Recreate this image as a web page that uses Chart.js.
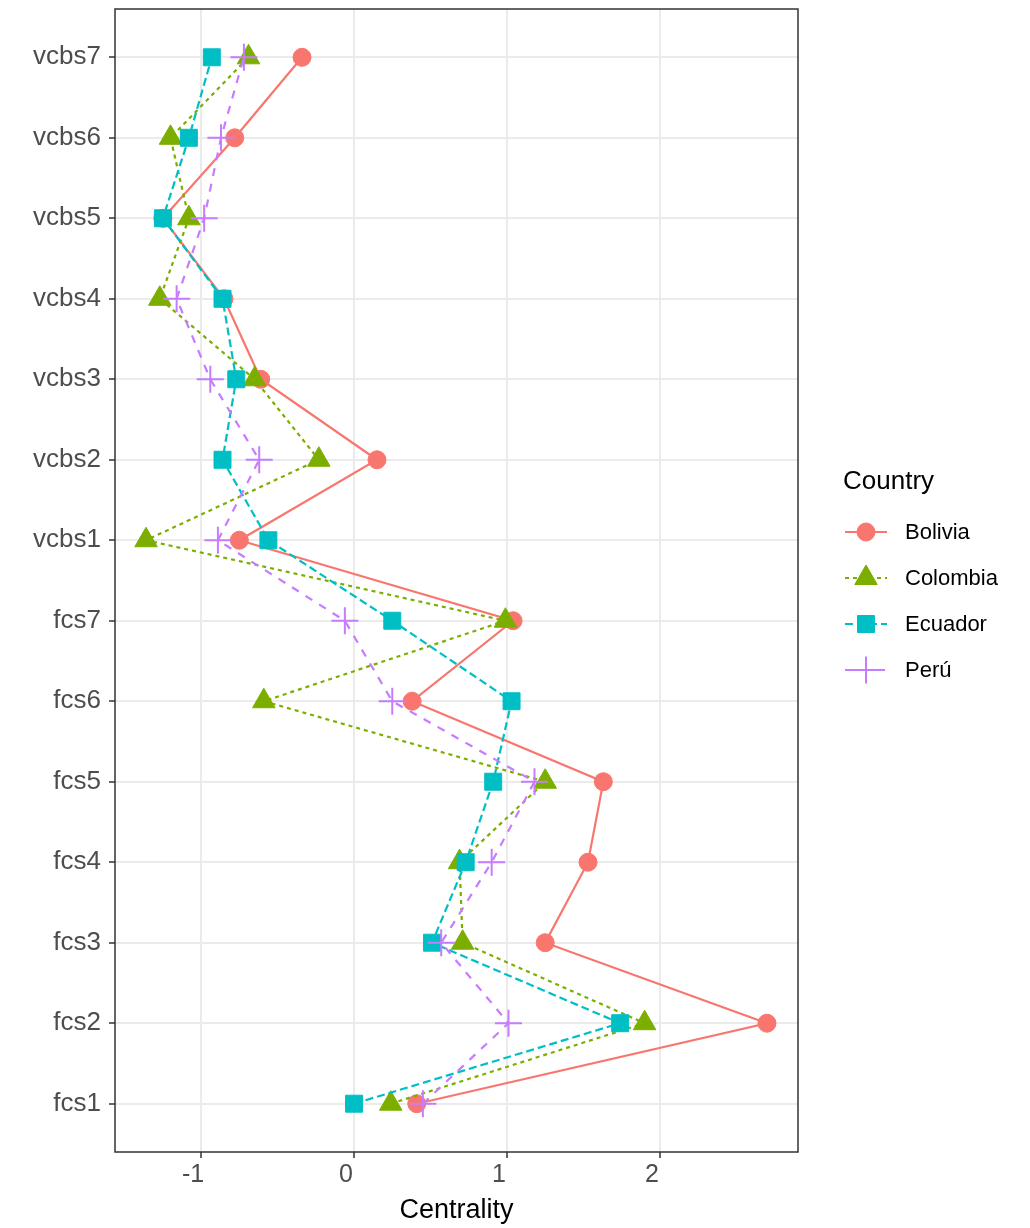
<!DOCTYPE html>
<html>
<head>
<meta charset="utf-8">
<script src="https://cdn.jsdelivr.net/npm/chart.js@4.4.1/dist/chart.umd.min.js"></script>
<style>
  html, body { margin: 0; padding: 0; background: #fff; }
  #wrap { width: 1030px; height: 1228px; }
</style>
</head>
<body>
<div id="wrap"><canvas id="chart" width="1030" height="1228"></canvas></div>
<script>
// items from bottom (fcs1) to top (vcbs7)
const items = ["fcs1", "fcs2", "fcs3", "fcs4", "fcs5", "fcs6", "fcs7",
               "vcbs1", "vcbs2", "vcbs3", "vcbs4", "vcbs5", "vcbs6", "vcbs7"];

const bolivia  = [0.41, 2.70, 1.25, 1.53, 1.63, 0.38, 1.04, -0.75, 0.15, -0.61, -0.85, -1.25, -0.78, -0.34];
const colombia = [0.24, 1.90, 0.71, 0.69, 1.25, -0.59, 0.99, -1.36, -0.23, -0.65, -1.27, -1.08, -1.20, -0.69];
const ecuador  = [0.00, 1.74, 0.51, 0.73, 0.91, 1.03, 0.25, -0.56, -0.86, -0.77, -0.86, -1.25, -1.08, -0.93];
const peru     = [0.45, 1.01, 0.57, 0.90, 1.18, 0.25, -0.06, -0.89, -0.62, -0.94, -1.16, -0.98, -0.87, -0.72];

const countries = ["Bolivia", "Colombia", "Ecuador", "Perú"];
const xTicks = [-1, 0, 1, 2];

const FONT = "'Liberation Sans', Arial, sans-serif";

const styles = [
    { color: "#F8766D", shape: "circle",   radius: 9,    dash: [],     bw: 1 },
    { color: "#7CAE00", shape: "triangle", radius: 13,   dash: [4, 4], bw: 1 },
    { color: "#00BFC4", shape: "rect",     radius: 12,   dash: [8, 4], bw: 1 },
    { color: "#C77CFF", shape: "cross",    radius: 13.5, dash: [8, 8], bw: 2 },
];

// ggplot style 5% expansion of the data range
const allVals = [].concat(bolivia, colombia, ecuador, peru);
const dMin = Math.min(...allVals);
const dMax = Math.max(...allVals);
const pad = (dMax - dMin) * 0.05;

function toPoints(values) {
    return values.map((v, i) => ({ x: v, y: i + 1 }));
}

const datasets = [bolivia, colombia, ecuador, peru].map((vals, i) => {
    const s = styles[i];
    return {
        label: countries[i],
        data: toPoints(vals),
        borderColor: s.color,
        backgroundColor: s.color,
        borderWidth: 2.2,
        borderDash: s.dash,
        pointStyle: s.shape,
        pointRadius: s.radius,
        pointBorderWidth: s.bw,
        pointBackgroundColor: s.color,
        pointBorderColor: s.color,
        tension: 0,
        order: 3 - i,
    };
});

const panelBorder = {
    id: "panelBorder",
    afterDraw(chart) {
        const a = chart.chartArea;
        const ctx = chart.ctx;
        ctx.save();
        ctx.strokeStyle = "#333333";
        ctx.lineWidth = 1.5;
        ctx.strokeRect(a.left, a.top, a.right - a.left, a.bottom - a.top);
        ctx.restore();
    },
};

const sideLegend = {
    id: "sideLegend",
    afterDraw(chart) {
        const ctx = chart.ctx;
        ctx.save();
        ctx.fillStyle = "#000";
        ctx.font = "26px " + FONT;
        ctx.textBaseline = "middle";
        ctx.textAlign = "left";
        ctx.fillText("Country", 843, 482);

        countries.forEach((name, i) => {
            const s = styles[i];
            const y = 532 + i * 46;
            const cx = 866;
            ctx.strokeStyle = s.color;
            ctx.fillStyle = s.color;
            ctx.lineWidth = 2;
            ctx.setLineDash(s.dash);
            ctx.beginPath();
            ctx.moveTo(845, y);
            ctx.lineTo(887, y);
            ctx.stroke();
            ctx.setLineDash([]);
            ctx.lineWidth = s.bw;
            Chart.helpers.drawPoint(ctx, {
                pointStyle: s.shape, radius: s.radius, borderWidth: s.bw, rotation: 0,
            }, cx, y);

            ctx.fillStyle = "#000";
            ctx.font = "22px " + FONT;
            ctx.fillText(name, 905, y + 1);
        });
        ctx.restore();
    },
};

new Chart(document.getElementById("chart"), {
    type: "line",
    data: { datasets },
    options: {
        responsive: false,
        animation: false,
        layout: {
            autoPadding: false,
            padding: { left: 0, top: 9, right: 232, bottom: 0 },
        },
        plugins: {
            legend: { display: false },
            tooltip: { enabled: false },
        },
        scales: {
            x: {
                type: "linear",
                min: dMin - pad,
                max: dMax + pad,
                afterBuildTicks: (scale) => {
                    scale.ticks = xTicks.map((v) => ({ value: v }));
                },
                afterFit: (scale) => {
                    scale.height = 76;
                    scale.paddingLeft = 0;
                    scale.paddingRight = 0;
                },
                grid: {
                    color: "#EBEBEB",
                    lineWidth: 2,
                    drawTicks: true,
                    tickLength: 6,
                    tickColor: "#333333",
                    tickWidth: 1.5,
                },
                border: { display: false },
                ticks: {
                    color: "#4D4D4D",
                    font: { family: FONT, size: 25 },
                    padding: 2,
                    labelOffset: -8,
                    maxRotation: 0,
                    callback: (v) => String(v),
                },
                title: {
                    display: true,
                    text: "Centrality",
                    color: "#000",
                    font: { family: FONT, size: 27 },
                    padding: { top: 0, bottom: 1 },
                },
            },
            y: {
                type: "linear",
                min: 0.4,
                max: 14.6,
                afterBuildTicks: (scale) => {
                    scale.ticks = items.map((_, i) => ({ value: i + 1 }));
                },
                afterFit: (scale) => {
                    scale.width = 115;
                    scale.paddingTop = 0;
                    scale.paddingBottom = 0;
                },
                grid: {
                    color: "#EBEBEB",
                    lineWidth: 2,
                    drawTicks: true,
                    tickLength: 6,
                    tickColor: "#333333",
                    tickWidth: 1.5,
                },
                border: { display: false },
                ticks: {
                    color: "#4D4D4D",
                    font: { family: FONT, size: 26 },
                    padding: 8,
                    callback: (v) => items[v - 1],
                },
            },
        },
    },
    plugins: [panelBorder, sideLegend],
});
</script>
</body>
</html>
